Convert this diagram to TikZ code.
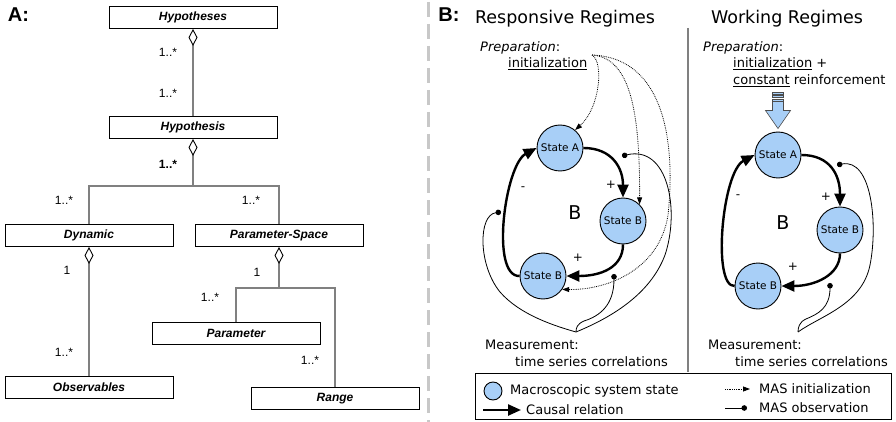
\documentclass[tikz,border=0pt]{standalone}
\usepackage{fontspec}
\setmainfont{DejaVu Sans}
\newfontfamily\umlfont{Liberation Sans}
\usetikzlibrary{arrows.meta}
\definecolor{statefill}{RGB}{168,207,247}
\definecolor{sepgray}{RGB}{200,200,200}
\definecolor{umlgray}{RGB}{128,128,128}

\begin{document}
\begin{tikzpicture}[x=1pt,y=-1pt,
	every node/.style={inner sep=0pt},
	umlbox/.style={draw,line width=0.9pt,minimum width=168pt,minimum height=22pt,font=\umlfont\fontsize{12}{14}\selectfont\bfseries\itshape},
	mult/.style={font=\umlfont\fontsize{12}{14}\selectfont},
	umlline/.style={draw=umlgray,line width=1.2pt},
	agg/.style={umlline,-{Diamond[length=17pt,width=9pt,fill=white,color=black,line width=0.9pt]}},
	state/.style={circle,draw,fill=statefill,line width=0.9pt,minimum size=46pt,font=\fontsize{10.5}{12}\selectfont},
	causal/.style={line width=2.4pt,-{Triangle[length=13pt,width=11pt]}},
	init/.style={densely dotted,line width=0.8pt,-{Triangle[length=7pt,width=5pt]}},
	obs/.style={line width=0.8pt,{Circle[length=5.5pt]}-},
	txt/.style={font=\fontsize{13}{15}\selectfont,anchor=west},
	sign/.style={font=\fontsize{12}{14}\selectfont},
	panel/.style={font=\umlfont\fontsize{20}{22}\selectfont\bfseries},
	title/.style={font=\fontsize{17.5}{20}\selectfont}]
	\useasboundingbox (0,0) rectangle (896,422);

	% A: class diagram
	\node[panel] (labA) at (18.5,14.5) {A:};
	\node[umlbox] (hyps) at (193,17.5) {Hypotheses};
	\node[umlbox] (hyp) at (193,127.5) {Hypothesis};
	\node[umlbox] (dyn) at (89,235.5) {Dynamic};
	\node[umlbox] (pspace) at (279,235.5) {Parameter-Space};
	\node[umlbox] (obsv) at (89,387.5) {Observables};
	\node[umlbox] (param) at (236,333.5) {Parameter};
	\node[umlbox] (range) at (335,398.5) {Range};
	\coordinate (fork1) at (193,186);
	\coordinate (fork2) at (279,288);
	\draw[agg] (hyp.north) -- (hyps.south);
	\draw[agg] (fork1) -- (hyp.south);
	\draw[umlline] (dyn.north) |- (fork1) -| (pspace.north);
	\draw[agg] (obsv.north) -- (dyn.south);
	\draw[agg] (fork2) -- (pspace.south);
	\draw[umlline] (param.north) |- (fork2) -| (range.north);
	\node[mult] (m1) at (168,52) {1..*};
	\node[mult] (m2) at (168,93) {1..*};
	\node[mult,font=\umlfont\fontsize{12}{14}\selectfont\bfseries] (m3) at (168,164) {1..*};
	\node[mult] (m4) at (64,200) {1..*};
	\node[mult] (m5) at (251,200) {1..*};
	\node[mult] (m6) at (67,270) {1};
	\node[mult] (m7) at (64,352) {1..*};
	\node[mult] (m8) at (257,272) {1};
	\node[mult] (m9) at (210,297) {1..*};
	\node[mult] (m10) at (310,360) {1..*};

	\draw[sepgray,line width=3pt,dash pattern=on 15pt off 7pt] (428,2) -- (428,422);

	% B: regimes
	\node[panel] (labB) at (449,15) {B:};
	\node[title] (titR) at (565,18.5) {Responsive Regimes};
	\node[title] (titW) at (787,18.5) {Working Regimes};
	\draw[umlgray,line width=1.2pt] (688,28) -- (688,372);

	% responsive
	\node[txt] (prepR) at (480,48) {\textit{Preparation}:};
	\node[txt] (initR) at (508,64) {\underline{initialization}};
	\node[state] (stA1) at (560,148) {State A};
	\node[state] (stB1) at (623,221) {State B};
	\node[state] (stC1) at (543,276) {State B};
	\node[font=\fontsize{19}{21}\selectfont] (bigB1) at (575,213) {B};
	\node[sign] (minus1) at (523,189) {-};
	\node[sign] (plus1) at (611,185) {+};
	\node[sign] (plus2) at (578,258) {+};
	\draw[causal] (stA1.east) .. controls (612,148) and (623,168) .. (stB1.north);
	\draw[causal] (stB1.south) .. controls (623,268) and (600,276) .. (stC1.east);
	\draw[causal] (stC1.west) .. controls (490,277) and (505,165) .. (stA1.west);
	\coordinate (prepsrc) at (592,55);
	\draw[init] (prepsrc) .. controls (604,62) and (600,108) .. (stA1.50);
	\draw[init] (prepsrc) .. controls (630,58) and (640,110) .. (stB1.45);
	\draw[init] (prepsrc) .. controls (668,58) and (675,150) .. (668,215) .. controls (660,268) and (610,290) .. (stC1.-35);
	\coordinate (obsA1) at (622,156);
	\coordinate (obsB1) at (614,274);
	\coordinate (obsC1) at (501,212);
	\coordinate (tip1) at (576,332);
	\draw[obs] (obsA1) .. controls (668,145) and (680,210) .. (665,255) .. controls (650,295) and (610,318) .. (tip1);
	\draw[obs] (obsB1) .. controls (614,305) and (600,316) .. (584,321) .. controls (577,324) and (576,328) .. (tip1);
	\draw[obs] (obsC1) .. controls (478,215) and (478,265) .. (500,292) .. controls (520,315) and (555,326) .. (tip1);
	\node[txt] (measR) at (485,345) {Measurement:};
	\node[txt] (timeR) at (515,362) {time series correlations};

	% working
	\node[txt] (prepW) at (703,48) {\textit{Preparation}:};
	\node[txt] (initW) at (733,64) {\underline{initialization} +};
	\node[txt] (constW) at (733,81) {\underline{constant} reinforcement};
	\node[state] (stA2) at (778,155) {State A};
	\node[state] (stB2) at (840,230) {State B};
	\node[state] (stC2) at (758,286) {State B};
	\node[font=\fontsize{19}{21}\selectfont] (bigB2) at (783,223) {B};
	\node[sign] (minus2) at (738,197) {-};
	\node[sign] (plus3) at (826,197) {+};
	\node[sign] (plus4) at (793,267) {+};
	\filldraw[fill=statefill,draw=black!70,line width=0.6pt] ([yshift=3pt]stA2.north) -- ++(-12.5,-18) -- ++(7,0) -- ++(0,-9) -- ++(11,0) -- ++(0,9) -- ++(7,0) -- cycle;
	\foreach \y in {92,95.5,99}
		\filldraw[fill=statefill,draw=black!70,line width=0.6pt] (772.5,\y) rectangle (783.5,\y+2);
	\draw[causal] (stA2.east) .. controls (830,155) and (840,175) .. (stB2.north);
	\draw[causal] (stB2.south) .. controls (840,275) and (815,286) .. (stC2.east);
	\draw[causal] (stC2.west) .. controls (712,287) and (722,172) .. (stA2.west);
	\coordinate (obsA2) at (837,165);
	\coordinate (obsB2) at (830,283);
	\coordinate (tip2) at (798,332);
	\draw[obs] (obsA2) .. controls (872,158) and (878,225) .. (870,265) .. controls (862,305) and (820,316) .. (tip2);
	\draw[obs] (obsB2) .. controls (830,308) and (818,314) .. (806,319) .. controls (799,322) and (798,328) .. (tip2);
	\node[txt] (measW) at (708,345) {Measurement:};
	\node[txt] (timeW) at (735,362) {time series correlations};

	% legend
	\node[draw,line width=0.9pt,minimum width=416pt,minimum height=46pt] (legend) at (683,396) {};
	\node[state,minimum size=18pt] (legS) at (493,391) {};
	\node[txt] (legSt) at (510,391) {Macroscopic system state};
	\coordinate (legCa) at (483,410);
	\coordinate (legCb) at (521,410);
	\draw[causal] (legCa) -- (legCb);
	\node[txt] (legCt) at (526,410) {Causal relation};
	\coordinate (legIa) at (725,389);
	\coordinate (legIb) at (750,389);
	\draw[init] (legIa) -- (legIb);
	\node[txt] (legIt) at (759,389) {MAS initialization};
	\coordinate (legOa) at (747,408);
	\coordinate (legOb) at (725,408);
	\draw[obs] (legOa) -- (legOb);
	\node[txt] (legOt) at (759,408) {MAS observation};
\end{tikzpicture}
\end{document}
